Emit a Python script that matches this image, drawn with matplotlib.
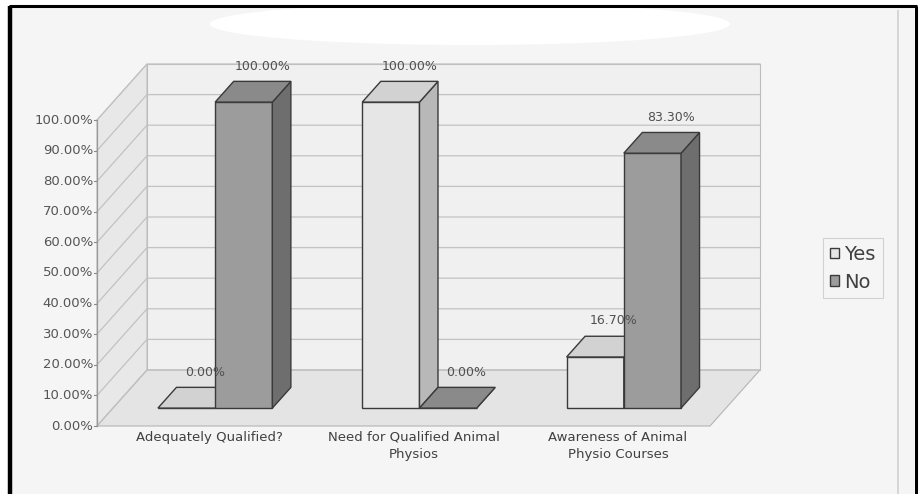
"""Pseudo-3D clustered column chart: Yes / No answers per question."""

import matplotlib

matplotlib.use("Agg")
import matplotlib.pyplot as plt  # noqa:E402
from matplotlib.lines import Line2D  # noqa:E402
from matplotlib.patches import Ellipse, Patch, Polygon, Rectangle  # noqa:E402

categories = [
    "Adequately Qualified?",
    "Need for Qualified Animal\nPhysios",
    "Awareness of Animal\nPhysio Courses",
]
series_names = ["Yes", "No"]
yes_values = [0.0, 100.0, 16.7]
no_values = [100.0, 0.0, 83.3]
y_ticks = [0, 10, 20, 30, 40, 50, 60, 70, 80, 90, 100]

W, H = 919, 494
X_PX = 204.33  # pixels per category
Y_PX = 3.06  # pixels per percent
X_LEFT = 97  # front-left corner of floor, px from left
Y_ZERO = 426  # front 0% line, px from top

DX = 50 / X_PX  # full depth of the box
DY = 56 / Y_PX
T0, T1 = 0.32, 0.69  # bars sit between these fractions of the depth
BAR_W = 0.28

FONT = "DejaVu Sans"
EDGE = "#3a3a3a"
COLORS = {
    "Yes": {"front": "#e6e6e6", "top": "#d2d2d2", "side": "#b8b8b8"},
    "No": {"front": "#9c9c9c", "top": "#8a8a8a", "side": "#6e6e6e"},
}


def px(x, y):
    """figure pixel (from top-left) -> figure fraction"""
    return x / W, 1 - y / H


def draw_bar(ax, x0, value, cols, z):
    b = DY * T0
    ddx, ddy = DX * (T1 - T0), DY * (T1 - T0)
    top = b + value
    ax.bar(x0, value, width=BAR_W, bottom=b, align="edge",
           color=cols["front"], edgecolor=EDGE, linewidth=1, zorder=z)
    side = [(x0 + BAR_W, b), (x0 + BAR_W + ddx, b + ddy),
            (x0 + BAR_W + ddx, top + ddy), (x0 + BAR_W, top)]
    ax.add_patch(Polygon(side, closed=True, facecolor=cols["side"],
                         edgecolor=EDGE, linewidth=1, zorder=z))
    lid = [(x0, top), (x0 + BAR_W, top),
           (x0 + BAR_W + ddx, top + ddy), (x0 + ddx, top + ddy)]
    ax.add_patch(Polygon(lid, closed=True, facecolor=cols["top"],
                         edgecolor=EDGE, linewidth=1, zorder=z))
    ax.text(x0 + BAR_W / 2 + ddx, top + ddy + 5, f"{value:.2f}%",
            ha="center", va="center", fontsize=9, family=FONT,
            color="#505050", zorder=10)


fig = plt.figure(figsize=(W / 100, H / 100), dpi=100)
fig.patch.set_facecolor("white")

# scanned page background + frame
x_a, y_a = px(10, 7)
x_b, _ = px(914, 0)
fig.patches.append(Rectangle((x_a, 0), x_b - x_a, y_a, transform=fig.transFigure,
                             facecolor="#f5f5f5", edgecolor="none", zorder=-3))
cx, cy = px(470, 24)
fig.patches.append(Ellipse((cx, cy), 520 / W, 42 / H, transform=fig.transFigure,
                           facecolor="white", edgecolor="none", zorder=-2))
for (xa, ya), (xb, yb), lw in [((9.5, 494), (9.5, 6), 3.2),
                               ((9, 6), (917, 6), 2.2),
                               ((915.5, 6), (915.5, 494), 2.2),
                               ((898, 10), (898, 494), 1.2)]:
    p1, p2 = px(xa, ya), px(xb, yb)
    color = "black" if lw > 2 else "#d0d0d0"
    fig.lines.append(Line2D([p1[0], p2[0]], [p1[1], p2[1]], transform=fig.transFigure,
                            color=color, linewidth=lw, zorder=-1,
                            solid_capstyle="butt"))

ax = fig.add_axes([0, 0, 1, 1])
ax.set_zorder(1)
ax.set_axis_off()
ax.set_xlim(-0.5 - X_LEFT / X_PX, -0.5 + (W - X_LEFT) / X_PX)
ax.set_ylim(-(H - Y_ZERO) / Y_PX, Y_ZERO / Y_PX)

n = len(categories)
xl, xr = -0.5, n - 0.5
ymax = y_ticks[-1]

# walls and floor
ax.add_patch(Polygon([(xl + DX, DY), (xr + DX, DY), (xr + DX, ymax + DY), (xl + DX, ymax + DY)],
                     closed=True, facecolor="#f0f0f0", edgecolor="#bdbdbd", linewidth=0.8, zorder=1))
ax.add_patch(Polygon([(xl, 0), (xl + DX, DY), (xl + DX, ymax + DY), (xl, ymax)],
                     closed=True, facecolor="#e8e8e8", edgecolor="#bdbdbd", linewidth=0.8, zorder=1))
ax.add_patch(Polygon([(xl, 0), (xr, 0), (xr + DX, DY), (xl + DX, DY)],
                     closed=True, facecolor="#e4e4e4", edgecolor="#b5b5b5", linewidth=0.8, zorder=1))

for t in y_ticks:
    ax.plot([xl, xl + DX, xr + DX], [t, t + DY, t + DY], color="#c2c2c2", linewidth=0.9, zorder=2)
    ax.plot([xl - 0.015, xl], [t, t], color="#8a8a8a", linewidth=0.8, zorder=2)
    ax.text(xl - 0.02, t, f"{t:.2f}%", ha="right", va="center", fontsize=9.5,
            family=FONT, color="#555555", zorder=10)
ax.plot([xl, xl], [0, ymax], color="#9a9a9a", linewidth=0.9, zorder=2)

# bars
for i in range(n):
    base = i + DX * T0
    draw_bar(ax, base - BAR_W, yes_values[i], COLORS["Yes"], 3 + i)
    draw_bar(ax, base, no_values[i], COLORS["No"], 3 + i)
    ax.text(i + 0.05, -1.6, categories[i], ha="center", va="top", fontsize=9.5,
            family=FONT, color="#404040", linespacing=1.45, zorder=10)

handles = [Patch(facecolor=COLORS[s]["front"], edgecolor=EDGE, linewidth=1) for s in series_names]
lx, ly = px(823, 238)
leg = fig.legend(handles, series_names, loc="upper left", bbox_to_anchor=(lx, ly),
                 prop={"family": FONT, "size": 14}, frameon=True, fancybox=False,
                 handlelength=0.45, handleheight=0.45, handletextpad=0.3,
                 labelspacing=0.45, borderpad=0.35, borderaxespad=0)
leg.set_zorder(2)
leg.get_frame().set_edgecolor("#c8c8c8")
leg.get_frame().set_facecolor("#f5f5f5")
leg.get_frame().set_linewidth(0.8)
for txt in leg.get_texts():
    txt.set_color("#404040")

fig.savefig("out.png", dpi=100)
